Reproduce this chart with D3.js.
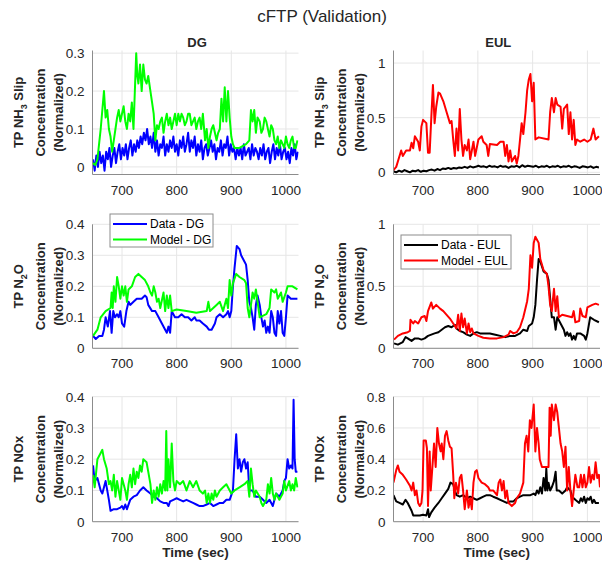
<!DOCTYPE html>
<html>
<head>
<meta charset="utf-8">
<script src="https://cdn.jsdelivr.net/npm/d3@7"></script>
<style>
  body { margin: 0; background: #fff; }
  text { font-family: Arial, "Liberation Sans", sans-serif; fill: #262626; }
</style>
</head>
<body>
<div id="chart"></div>
<script>
// ---- data (time in sec, concentration normalized) ----
var xTicks = [700, 800, 900, 1000];

// NH3 slip, DG : measured data sampled every 3 s from 647
var dgNh3DataTime = d3.range(647, 1023, 3);
var dgNh3DataVals = [
  0.02, -0.01, 0.03, 0.0, 0.04, 0.01, 0.03, -0.01, 0.04, 0.02, 0.05, 0.0,
  0.03, 0.05, 0.01, 0.04, 0.06, 0.02, 0.05, 0.03, 0.06, 0.02, 0.05, 0.07, 0.03,
  0.06, 0.04, 0.07, 0.05, 0.08, 0.06, 0.09, 0.07, 0.1, 0.06, 0.08, 0.05, 0.09,
  0.04, 0.07, 0.03, 0.06, 0.05, 0.08, 0.03, 0.06, 0.04, 0.07, 0.05, 0.08, 0.04,
  0.06, 0.03, 0.07, 0.05, 0.08, 0.04, 0.06, 0.09, 0.04, 0.07, 0.05, 0.08, 0.03,
  0.06, 0.04, 0.07, 0.02, 0.05, 0.06, 0.03, 0.05, 0.07, 0.04, 0.06, 0.02, 0.05,
  0.04, 0.07, 0.03, 0.06, 0.05, 0.08, 0.03, 0.06, 0.04, 0.05, 0.02, 0.05, 0.03,
  0.05, 0.02, 0.06, 0.03, 0.04, 0.05, 0.02, 0.06, 0.03, 0.05, 0.04, 0.02, 0.05,
  0.03, 0.06, 0.02, 0.04, 0.05, 0.01, 0.04, 0.06, 0.02, 0.05, 0.03, 0.06, 0.02,
  0.04, 0.05, 0.02, 0.04, 0.01, 0.05, 0.03, 0.06, 0.02, 0.04
];
var dgNh3Model = [
  [647,0.01],[651,0.005],[655,0.02],[658,0.06],[661,0.1],[664,0.15],[667,0.2],[670,0.13],
  [673,0.15],[676,0.1],[679,0.08],[682,0.04],[685,0.07],[688,0.1],[691,0.13],[694,0.15],
  [697,0.12],[700,0.14],[703,0.16],[706,0.12],[709,0.1],[712,0.14],[715,0.12],[718,0.17],
  [721,0.1],[724,0.22],[726,0.3],[728,0.24],[730,0.22],[733,0.27],[736,0.2],[739,0.27],
  [742,0.23],[745,0.22],[748,0.24],[752,0.2],[755,0.17],[758,0.14],[761,0.07],[764,0.11],
  [767,0.1],[770,0.12],[773,0.13],[776,0.09],[779,0.12],[782,0.14],[785,0.11],[788,0.13],
  [791,0.1],[794,0.12],[797,0.14],[800,0.11],[803,0.14],[806,0.12],[809,0.14],[812,0.13],
  [815,0.11],[818,0.12],[821,0.14],[824,0.14],[827,0.11],[830,0.12],[833,0.13],[836,0.1],
  [839,0.12],[842,0.13],[845,0.1],[848,0.14],[852,0.07],[855,0.1],[858,0.05],[861,0.08],
  [864,0.1],[867,0.11],[870,0.09],[873,0.07],[876,0.09],[879,0.1],[882,0.18],[885,0.12],
  [888,0.21],[891,0.12],[894,0.2],[897,0.13],[900,0.08],[903,0.06],[906,0.05],[915,0.05],
  [927,0.06],[933,0.07],[936,0.15],[939,0.12],[942,0.15],[945,0.09],[948,0.13],[952,0.12],
  [955,0.09],[958,0.1],[961,0.13],[964,0.12],[967,0.1],[970,0.08],[973,0.11],[976,0.1],
  [979,0.07],[982,0.06],[985,0.08],[988,0.05],[991,0.07],[994,0.06],[997,0.05],[1000,0.08],
  [1003,0.06],[1006,0.05],[1009,0.07],[1012,0.08],[1015,0.05],[1018,0.05],[1021,0.07]
];

// NH3 slip, EUL : measured data sampled every 5 s from 646
var eulNh3DataTime = d3.range(646, 1022, 5);
var eulNh3DataVals = [
  0.01, 0.0, 0.015, 0.005, 0.02, 0.01, 0.0, 0.015, 0.01, 0.02, 0.005,
  0.015, 0.01, 0.02, 0.025, 0.015, 0.03, 0.02, 0.035, 0.03, 0.04, 0.03,
  0.04, 0.035, 0.045, 0.04, 0.05, 0.04, 0.055, 0.045, 0.05, 0.06, 0.05,
  0.055, 0.045, 0.06, 0.05, 0.055, 0.045, 0.06, 0.05, 0.055, 0.04, 0.055,
  0.05, 0.06, 0.045, 0.065, 0.05, 0.06, 0.055, 0.05, 0.06, 0.045, 0.055,
  0.05, 0.06, 0.045, 0.055, 0.05, 0.06, 0.045, 0.055, 0.05, 0.06, 0.045,
  0.055, 0.05, 0.04, 0.055, 0.05, 0.045, 0.055, 0.04, 0.05, 0.045
];
var eulNh3Model = [
  [646,0.02],[651,0.05],[657,0.15],[660,0.2],[663,0.15],[669,0.2],[676,0.2],[679,0.27],
  [682,0.22],[685,0.33],[691,0.28],[694,0.2],[697,0.42],[700,0.48],[706,0.45],[709,0.18],
  [712,0.18],[715,0.5],[718,0.8],[721,0.45],[724,0.6],[728,0.73],[731,0.72],[737,0.65],
  [743,0.55],[749,0.45],[752,0.47],[755,0.3],[758,0.15],[761,0.4],[764,0.2],[767,0.58],
  [770,0.3],[773,0.15],[776,0.25],[780,0.2],[783,0.3],[786,0.12],[789,0.2],[792,0.28],
  [795,0.15],[801,0.3],[807,0.33],[810,0.28],[816,0.25],[819,0.15],[822,0.26],[835,0.25],
  [841,0.28],[847,0.28],[850,0.15],[853,0.25],[856,0.1],[859,0.2],[862,0.1],[868,0.15],
  [871,0.08],[874,0.15],[877,0.3],[880,0.45],[883,0.35],[887,0.55],[890,0.75],[893,0.85],
  [896,0.9],[899,0.65],[902,0.82],[905,0.3],[911,0.32],[929,0.3],[932,0.55],[935,0.68],
  [939,0.55],[942,0.68],[945,0.62],[951,0.6],[954,0.4],[957,0.58],[960,0.6],[963,0.62],
  [966,0.35],[969,0.55],[972,0.3],[975,0.48],[978,0.25],[981,0.3],[987,0.28],[994,0.3],
  [1000,0.28],[1006,0.3],[1011,0.4],[1015,0.3],[1021,0.33]
];

// N2O, DG
var dgN2oData = [
  [647,0.04],[652,0.03],[658,0.04],[664,0.04],[667,0.06],[670,0.1],[674,0.07],[678,0.12],
  [681,0.05],[684,0.12],[687,0.1],[691,0.11],[694,0.1],[697,0.12],[700,0.08],[704,0.07],
  [708,0.12],[712,0.15],[715,0.14],[721,0.15],[727,0.16],[736,0.16],[742,0.17],[745,0.165],
  [748,0.14],[755,0.12],[761,0.12],[767,0.1],[773,0.08],[779,0.06],[782,0.05],[785,0.07],
  [788,0.05],[791,0.12],[797,0.1],[803,0.1],[809,0.11],[815,0.1],[821,0.1],[827,0.09],
  [833,0.1],[836,0.09],[842,0.09],[848,0.08],[855,0.07],[859,0.06],[864,0.06],[870,0.08],
  [873,0.1],[879,0.11],[885,0.1],[891,0.11],[894,0.12],[897,0.1],[900,0.12],[903,0.2],
  [906,0.26],[910,0.33],[915,0.32],[918,0.3],[924,0.28],[927,0.27],[930,0.22],[933,0.15],
  [936,0.13],[939,0.1],[942,0.06],[945,0.14],[948,0.17],[952,0.14],[955,0.1],[958,0.07],
  [961,0.09],[964,0.05],[967,0.07],[970,0.05],[973,0.12],[976,0.1],[979,0.05],[982,0.04],
  [985,0.12],[988,0.08],[991,0.12],[994,0.05],[997,0.04],[1000,0.1],[1003,0.17],[1009,0.16],
  [1015,0.16],[1021,0.16]
];
var dgN2oModel = [
  [647,0.04],[655,0.06],[661,0.1],[670,0.12],[679,0.13],[681,0.18],[683,0.13],[685,0.2],
  [688,0.15],[691,0.23],[694,0.2],[697,0.16],[700,0.2],[703,0.17],[706,0.2],[709,0.15],
  [712,0.19],[718,0.2],[724,0.23],[730,0.24],[736,0.23],[742,0.22],[748,0.2],[752,0.18],
  [755,0.17],[758,0.2],[761,0.18],[764,0.15],[767,0.16],[770,0.13],[776,0.18],[779,0.12],
  [782,0.17],[785,0.13],[788,0.17],[791,0.12],[800,0.125],[818,0.12],[836,0.115],[855,0.12],
  [858,0.15],[861,0.12],[867,0.13],[873,0.14],[879,0.15],[885,0.12],[891,0.16],[894,0.13],
  [897,0.22],[900,0.17],[903,0.21],[909,0.24],[915,0.23],[924,0.22],[927,0.21],[930,0.13],
  [933,0.1],[936,0.14],[939,0.18],[942,0.16],[945,0.19],[952,0.1],[964,0.11],[970,0.13],
  [973,0.19],[979,0.18],[982,0.19],[985,0.16],[991,0.18],[994,0.15],[1000,0.18],[1003,0.2],
  [1012,0.2],[1021,0.19]
];

// N2O, EUL
var eulN2oData = [
  [647,0.04],[654,0.03],[663,0.05],[668,0.09],[672,0.08],[679,0.06],[685,0.08],[691,0.08],
  [697,0.07],[703,0.08],[709,0.1],[715,0.11],[721,0.12],[728,0.13],[734,0.15],[740,0.17],
  [746,0.18],[752,0.17],[758,0.19],[761,0.16],[767,0.14],[773,0.13],[780,0.11],[786,0.1],
  [792,0.12],[798,0.13],[804,0.12],[813,0.12],[822,0.12],[832,0.11],[841,0.1],[850,0.09],
  [859,0.1],[868,0.1],[877,0.12],[883,0.15],[890,0.14],[893,0.18],[899,0.2],[902,0.25],
  [905,0.35],[908,0.55],[911,0.72],[914,0.7],[920,0.62],[926,0.6],[929,0.55],[932,0.4],
  [935,0.25],[939,0.25],[942,0.15],[945,0.25],[951,0.2],[957,0.15],[960,0.1],[963,0.13],
  [966,0.1],[969,0.12],[972,0.07],[975,0.1],[978,0.07],[981,0.12],[987,0.12],[994,0.1],
  [997,0.07],[1000,0.12],[1005,0.25],[1012,0.23],[1021,0.21]
];
var eulN2oModel = [
  [647,0.07],[654,0.1],[663,0.12],[672,0.13],[676,0.14],[677,0.23],[682,0.2],[685,0.22],
  [691,0.2],[697,0.25],[703,0.26],[706,0.22],[709,0.3],[715,0.37],[718,0.32],[724,0.35],
  [731,0.32],[737,0.3],[743,0.27],[749,0.24],[755,0.2],[761,0.16],[764,0.27],[767,0.14],
  [770,0.28],[773,0.17],[776,0.24],[780,0.12],[783,0.2],[786,0.13],[789,0.16],[792,0.12],
  [801,0.1],[810,0.085],[822,0.08],[835,0.08],[847,0.09],[856,0.11],[859,0.14],[865,0.12],
  [871,0.13],[877,0.17],[883,0.25],[890,0.38],[893,0.48],[896,0.75],[899,0.65],[902,0.85],
  [905,0.9],[911,0.85],[914,0.72],[920,0.63],[926,0.6],[929,0.5],[932,0.35],[935,0.3],
  [939,0.48],[942,0.3],[945,0.42],[948,0.25],[954,0.27],[963,0.26],[972,0.25],[975,0.3],
  [978,0.21],[985,0.22],[987,0.32],[991,0.26],[997,0.25],[1000,0.33],[1009,0.35],[1015,0.36],
  [1021,0.35]
];

// NOx, DG
var dgNoxData = [
  [647,0.18],[650,0.13],[655,0.14],[661,0.1],[664,0.09],[667,0.11],[670,0.13],[673,0.1],
  [676,0.07],[679,0.035],[685,0.04],[691,0.04],[697,0.045],[700,0.05],[703,0.04],[706,0.055],
  [709,0.04],[715,0.07],[721,0.08],[727,0.085],[733,0.1],[739,0.11],[745,0.1],[752,0.09],
  [758,0.08],[764,0.075],[770,0.065],[776,0.06],[782,0.06],[785,0.05],[788,0.065],[794,0.07],
  [800,0.075],[806,0.07],[812,0.065],[818,0.07],[824,0.065],[830,0.06],[836,0.055],[842,0.05],
  [848,0.05],[855,0.055],[861,0.06],[867,0.05],[873,0.055],[879,0.06],[885,0.06],[891,0.07],
  [897,0.07],[903,0.1],[906,0.2],[909,0.28],[912,0.17],[915,0.2],[918,0.16],[921,0.19],
  [924,0.2],[927,0.17],[930,0.19],[933,0.1],[939,0.1],[945,0.08],[952,0.08],[958,0.07],
  [964,0.06],[970,0.07],[976,0.05],[979,0.07],[982,0.09],[988,0.08],[994,0.1],[997,0.13],
  [1000,0.14],[1003,0.2],[1006,0.17],[1009,0.18],[1012,0.17],[1014,0.39],[1016,0.2],[1018,0.16],
  [1021,0.16]
];
var dgNoxModel = [
  [647,0.15],[650,0.11],[655,0.2],[661,0.22],[664,0.23],[667,0.2],[672,0.17],[676,0.12],
  [679,0.13],[682,0.1],[685,0.15],[688,0.08],[691,0.13],[694,0.1],[697,0.07],[700,0.14],
  [703,0.12],[706,0.1],[709,0.07],[712,0.12],[715,0.15],[718,0.11],[721,0.17],[724,0.12],
  [727,0.16],[730,0.14],[733,0.18],[736,0.16],[739,0.2],[745,0.19],[748,0.16],[752,0.12],
  [755,0.06],[758,0.1],[761,0.07],[764,0.11],[767,0.08],[770,0.12],[773,0.09],[776,0.13],
  [779,0.1],[781,0.29],[783,0.1],[785,0.2],[788,0.11],[791,0.25],[794,0.13],[797,0.1],
  [800,0.13],[806,0.12],[812,0.13],[818,0.1],[824,0.13],[830,0.11],[836,0.13],[842,0.1],
  [848,0.09],[852,0.1],[855,0.06],[858,0.09],[861,0.06],[864,0.09],[867,0.07],[870,0.1],
  [873,0.08],[879,0.1],[885,0.11],[891,0.12],[900,0.09],[906,0.1],[915,0.11],[924,0.12],
  [930,0.13],[933,0.08],[936,0.17],[939,0.12],[942,0.08],[945,0.1],[952,0.08],[955,0.06],
  [958,0.05],[964,0.07],[967,0.12],[970,0.09],[973,0.14],[976,0.09],[979,0.07],[982,0.09],
  [988,0.07],[994,0.09],[997,0.13],[1000,0.1],[1006,0.13],[1009,0.1],[1012,0.12],[1015,0.1],
  [1018,0.14],[1021,0.11]
];

// NOx, EUL
var eulNoxData = [
  [646,0.17],[651,0.13],[657,0.12],[663,0.11],[668,0.14],[672,0.12],[679,0.07],[682,0.04],
  [688,0.04],[694,0.04],[700,0.045],[706,0.04],[709,0.08],[711,0.03],[715,0.06],[721,0.09],
  [728,0.12],[734,0.15],[740,0.18],[746,0.21],[750,0.25],[755,0.24],[758,0.2],[761,0.17],
  [767,0.16],[773,0.17],[780,0.15],[786,0.16],[792,0.15],[798,0.14],[804,0.15],[810,0.16],
  [816,0.17],[822,0.17],[828,0.16],[835,0.15],[841,0.14],[847,0.13],[853,0.12],[859,0.13],
  [865,0.13],[871,0.15],[877,0.16],[883,0.17],[890,0.17],[896,0.17],[902,0.18],[905,0.17],
  [908,0.2],[911,0.18],[914,0.22],[917,0.18],[920,0.28],[923,0.2],[925,0.34],[927,0.2],
  [929,0.25],[932,0.2],[935,0.22],[939,0.26],[942,0.32],[944,0.2],[948,0.2],[954,0.18],
  [960,0.2],[963,0.22],[969,0.2],[972,0.16],[978,0.14],[985,0.12],[988,0.15],[991,0.13],
  [994,0.16],[997,0.12],[1000,0.15],[1003,0.14],[1006,0.16],[1009,0.12],[1012,0.14],[1015,0.12],
  [1021,0.12]
];
var eulNoxModel = [
  [646,0.25],[651,0.33],[654,0.36],[657,0.32],[663,0.3],[669,0.27],[676,0.23],[679,0.2],
  [682,0.25],[685,0.17],[688,0.2],[691,0.12],[694,0.1],[697,0.12],[699,0.2],[701,0.52],
  [705,0.52],[707,0.47],[709,0.1],[712,0.45],[714,0.2],[717,0.35],[720,0.5],[723,0.35],
  [726,0.6],[729,0.5],[732,0.45],[734,0.5],[737,0.4],[740,0.55],[743,0.58],[746,0.52],
  [749,0.48],[752,0.47],[755,0.3],[757,0.15],[760,0.25],[764,0.18],[767,0.28],[770,0.3],
  [773,0.2],[776,0.08],[780,0.2],[783,0.09],[786,0.15],[789,0.08],[792,0.25],[795,0.32],
  [798,0.33],[801,0.28],[807,0.25],[813,0.24],[819,0.22],[822,0.2],[828,0.2],[835,0.17],
  [838,0.25],[841,0.27],[844,0.2],[847,0.26],[850,0.15],[853,0.2],[856,0.12],[862,0.1],
  [868,0.12],[871,0.15],[877,0.18],[883,0.25],[886,0.5],[889,0.55],[892,0.45],[895,0.65],
  [898,0.6],[902,0.75],[905,0.45],[908,0.6],[911,0.5],[913,0.4],[917,0.35],[923,0.35],
  [929,0.35],[931,0.73],[933,0.55],[935,0.75],[939,0.65],[942,0.75],[945,0.7],[948,0.6],
  [951,0.5],[954,0.45],[957,0.35],[960,0.48],[963,0.2],[966,0.35],[969,0.2],[972,0.1],
  [975,0.2],[978,0.3],[982,0.22],[985,0.22],[988,0.3],[991,0.22],[994,0.3],[997,0.22],
  [1000,0.25],[1003,0.35],[1006,0.25],[1009,0.3],[1012,0.27],[1015,0.38],[1018,0.28],[1021,0.3],
  [1023,0.22]
];

// pair up the uniformly sampled series
var dgNh3Data = dgNh3DataTime.map(function(t, i) { return [t, dgNh3DataVals[i]]; });
var eulNh3Data = eulNh3DataTime.map(function(t, i) { return [t, eulNh3DataVals[i]]; });

// ---- layout ----
var width = 602, height = 562;
var cols = [{x0: 92.5, x1: 298.5, title: "DG"}, {x0: 393.5, x1: 600, title: "EUL"}];
var rows = [{y0: 50.5, y1: 174.5}, {y0: 224.3, y1: 348.3}, {y0: 396.7, y1: 521.7}];
var xDomain = [646, 1023];

var panels = [
  {row: 0, col: 0, ylim: [-0.02, 0.307], yticks: [0, 0.1, 0.2, 0.3], label: ["TP NH", "3", " Slip"],
   series: [{d: dgNh3Data, c: "#0000ff"}, {d: dgNh3Model, c: "#00ff00"}]},
  {row: 0, col: 1, ylim: [-0.02, 1.115], yticks: [0, 0.5, 1], label: ["TP NH", "3", " Slip"],
   series: [{d: eulNh3Data, c: "#000000"}, {d: eulNh3Model, c: "#ff0000"}]},
  {row: 1, col: 0, ylim: [0, 0.4], yticks: [0, 0.1, 0.2, 0.3, 0.4], label: ["TP N", "2", "O"],
   series: [{d: dgN2oData, c: "#0000ff", name: "Data - DG"}, {d: dgN2oModel, c: "#00ff00", name: "Model - DG"}],
   legend: {x: 110, y: 214, w: 103, h: 33}},
  {row: 1, col: 1, ylim: [0, 1], yticks: [0, 0.5, 1], label: ["TP N", "2", "O"],
   series: [{d: eulN2oData, c: "#000000", name: "Data - EUL"}, {d: eulN2oModel, c: "#ff0000", name: "Model - EUL"}],
   legend: {x: 401, y: 235, w: 110, h: 34}},
  {row: 2, col: 0, ylim: [0, 0.4], yticks: [0, 0.1, 0.2, 0.3, 0.4], label: ["TP NOx"],
   series: [{d: dgNoxData, c: "#0000ff"}, {d: dgNoxModel, c: "#00ff00"}]},
  {row: 2, col: 1, ylim: [0, 0.8], yticks: [0, 0.2, 0.4, 0.6, 0.8], label: ["TP NOx"],
   series: [{d: eulNoxData, c: "#000000"}, {d: eulNoxModel, c: "#ff0000"}]}
];

var svg = d3.select("#chart").append("svg")
    .attr("width", width)
    .attr("height", height)
    .style("background", "#fff");

var fmt = d3.format("~g");

// figure title
svg.append("text")
    .attr("x", 322).attr("y", 22)
    .attr("text-anchor", "middle")
    .style("font-size", "17px")
    .text("cFTP (Validation)");

panels.forEach(function(p, pi) {
  var c = cols[p.col], r = rows[p.row];
  var x = d3.scaleLinear().domain(xDomain).range([c.x0, c.x1]);
  var y = d3.scaleLinear().domain(p.ylim).range([r.y1, r.y0]);
  var g = svg.append("g");

  // grid
  g.selectAll(".vg").data(xTicks).enter().append("line")
      .attr("x1", function(d) { return x(d); }).attr("x2", function(d) { return x(d); })
      .attr("y1", r.y0).attr("y2", r.y1)
      .style("stroke", "#e6e6e6");
  g.selectAll(".hg").data(p.yticks).enter().append("line")
      .attr("x1", c.x0).attr("x2", c.x1)
      .attr("y1", function(d) { return y(d); }).attr("y2", function(d) { return y(d); })
      .style("stroke", "#e6e6e6");

  // lines, clipped to the axes box
  svg.append("clipPath").attr("id", "clip" + pi)
    .append("rect")
      .attr("x", c.x0).attr("y", r.y0)
      .attr("width", c.x1 - c.x0).attr("height", r.y1 - r.y0);

  var line = d3.line()
      .x(function(d) { return x(d[0]); })
      .y(function(d) { return y(d[1]); });

  p.series.forEach(function(s) {
    g.append("path")
        .datum(s.d)
        .attr("clip-path", "url(#clip" + pi + ")")
        .attr("d", line)
        .style("fill", "none")
        .style("stroke", s.c)
        .style("stroke-width", 2)
        .style("stroke-linejoin", "round");
  });

  // axes (left + bottom only)
  g.append("line")
      .attr("x1", c.x0).attr("x2", c.x0).attr("y1", r.y0).attr("y2", r.y1)
      .style("stroke", "#8c8c8c");
  g.append("line")
      .attr("x1", c.x0).attr("x2", c.x1).attr("y1", r.y1).attr("y2", r.y1)
      .style("stroke", "#8c8c8c");

  // tick labels
  g.selectAll(".yt").data(p.yticks).enter().append("text")
      .attr("x", c.x0 - 8)
      .attr("y", function(d) { return y(d); })
      .attr("dy", "0.36em")
      .attr("text-anchor", "end")
      .style("font-size", "13.5px")
      .text(function(d) { return fmt(d); });
  g.selectAll(".xt").data(xTicks).enter().append("text")
      .attr("x", function(d) { return x(d); })
      .attr("y", r.y1 + 20)
      .attr("text-anchor", "middle")
      .style("font-size", "13.5px")
      .text(function(d) { return d; });

  // y label, three lines
  var yc = (r.y0 + r.y1) / 2;
  var lab = g.append("g")
      .attr("transform", "translate(0," + yc + ") rotate(-90)")
      .style("font-size", "13px")
      .style("font-weight", "bold");
  var t1 = lab.append("text").attr("x", 0).attr("y", c.x0 - 70).attr("text-anchor", "middle");
  t1.append("tspan").text(p.label[0]);
  if (p.label.length > 1) {
    t1.append("tspan").attr("dy", 4).style("font-size", "9px").text(p.label[1]);
    t1.append("tspan").attr("dy", -4).text(p.label[2]);
  }
  lab.append("text").attr("x", 0).attr("y", c.x0 - 48).attr("text-anchor", "middle").text("Concentration");
  lab.append("text").attr("x", 0).attr("y", c.x0 - 30).attr("text-anchor", "middle").text("(Normalized)");

  // column title / x label
  if (p.row === 0) {
    g.append("text")
        .attr("x", (c.x0 + c.x1) / 2 + 1.5).attr("y", 46.5)
        .attr("text-anchor", "middle")
        .style("font-size", "13px").style("font-weight", "bold")
        .text(c.title);
  }
  if (p.row === 2) {
    g.append("text")
        .attr("x", (c.x0 + c.x1) / 2).attr("y", 556.5)
        .attr("text-anchor", "middle")
        .style("font-size", "13.5px").style("font-weight", "bold")
        .text("Time (sec)");
  }

  // legend
  if (p.legend) {
    var L = p.legend;
    var lg = g.append("g");
    lg.append("rect")
        .attr("x", L.x).attr("y", L.y).attr("width", L.w).attr("height", L.h)
        .style("fill", "#fff").style("stroke", "#8c8c8c");
    p.series.forEach(function(s, i) {
      var ly = L.y + 10 + i * 15.5;
      lg.append("line")
          .attr("x1", L.x + 3).attr("x2", L.x + 37)
          .attr("y1", ly).attr("y2", ly)
          .style("stroke", s.c).style("stroke-width", 2);
      lg.append("text")
          .attr("x", L.x + 40).attr("y", ly).attr("dy", "0.35em")
          .style("font-size", "12px").style("fill", "#000")
          .text(s.name);
    });
  }
});
</script>
</body>
</html>
